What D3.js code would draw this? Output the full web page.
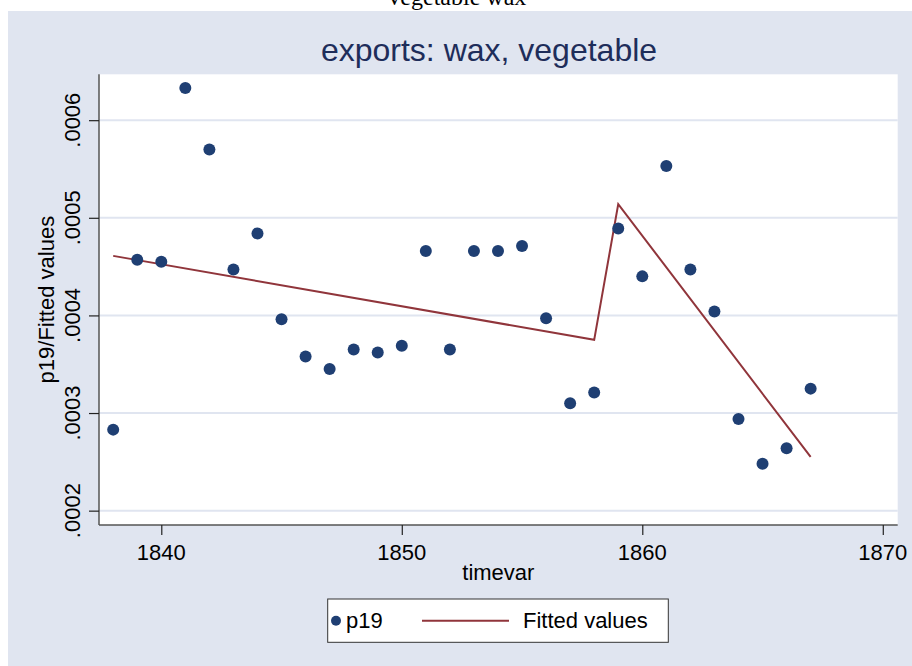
<!DOCTYPE html>
<html>
<head>
<meta charset="utf-8">
<script src="https://cdn.jsdelivr.net/npm/d3@7"></script>
<style>
  body { margin: 0; background: #fff; }
  text { font-family: "Liberation Sans", Arial, sans-serif; }
</style>
</head>
<body>
<script>
// observed values (p19)
var years = [1838, 1839, 1840, 1841, 1842, 1843, 1844, 1845, 1846, 1847,
             1848, 1849, 1850, 1851, 1852, 1853, 1854, 1855, 1856, 1857,
             1858, 1859, 1860, 1861, 1862, 1863, 1864, 1865, 1866, 1867];
var p19 = [0.000283, 0.000457, 0.000455, 0.000633, 0.000570, 0.000447, 0.000484, 0.000396, 0.000358, 0.000345,
           0.000365, 0.000362, 0.000369, 0.000466, 0.000365, 0.000466, 0.000466, 0.000471, 0.000397, 0.000310,
           0.000321, 0.000489, 0.000440, 0.000553, 0.000447, 0.000404, 0.000294, 0.000248, 0.000264, 0.000325];

// fitted line break points
var fitYears = [1838, 1858, 1859, 1867];
var fitValues = [0.000461, 0.000375, 0.000514, 0.000255];

var xTicks = [1840, 1850, 1860, 1870];
var yTicks = [0.0002, 0.0003, 0.0004, 0.0005, 0.0006];
var yTickLabels = [".0002", ".0003", ".0004", ".0005", ".0006"];

var w = 912, h = 666;
var pLeft = 99, pRight = 897.7, pTop = 74.3, pBottom = 525;

var svg = d3.select("body").append("svg")
            .attr("width", w)
            .attr("height", h);

// graph region
svg.append("rect")
   .attr("x", 8).attr("y", 11)
   .attr("width", w - 8).attr("height", h - 11)
   .attr("fill", "#e0e5f0");

svg.append("text")
   .text("Vegetable wax")
   .attr("x", 456).attr("y", 5)
   .attr("text-anchor", "middle")
   .style("font-family", "'Liberation Serif', 'Times New Roman', serif")
   .attr("font-size", "24px")
   .attr("fill", "#000");

var x = d3.scaleLinear().domain([1837.41, 1870.62]).range([pLeft, pRight]);
var y = d3.scaleLinear().domain([0.0001853, 0.000647]).range([pBottom, pTop]);

// plot region
svg.append("rect")
   .attr("x", pLeft).attr("y", pTop)
   .attr("width", pRight - pLeft).attr("height", pBottom - pTop)
   .attr("fill", "#fff");

// gridlines
svg.selectAll("line.grid").data(yTicks)
   .enter().append("line")
   .attr("class", "grid")
   .attr("x1", pLeft).attr("x2", pRight)
   .attr("y1", function(d) { return y(d); })
   .attr("y2", function(d) { return y(d); })
   .attr("stroke", "#e0e5f0")
   .attr("stroke-width", 2);

// axes
var yAxis = d3.axisLeft(y).tickValues(yTicks).tickSize(10).tickFormat("");
var xAxis = d3.axisBottom(x).tickValues(xTicks).tickSize(10).tickFormat("");

var gy = svg.append("g").attr("transform", "translate(" + pLeft + ",0)").call(yAxis);
var gx = svg.append("g").attr("transform", "translate(0," + pBottom + ")").call(xAxis);
[gy, gx].forEach(function(g) {
  g.select(".domain").attr("stroke", "#555").attr("stroke-width", 1.5);
  g.selectAll(".tick line").attr("stroke", "#222").attr("stroke-width", 1.2);
});
gx.select(".domain").attr("d", "M" + pLeft + ",0H" + pRight);
gy.select(".domain").attr("d", "M0," + pTop + "V" + pBottom);

// y tick labels (rotated)
svg.selectAll("text.ylab").data(yTicks)
   .enter().append("text")
   .attr("class", "ylab")
   .text(function(d, i) { return yTickLabels[i]; })
   .attr("text-anchor", "middle")
   .attr("transform", function(d) { return "translate(80," + y(d) + ") rotate(-90)"; })
   .attr("font-size", "22px")
   .attr("fill", "#000");

// x tick labels
svg.selectAll("text.xlab").data(xTicks)
   .enter().append("text")
   .attr("class", "xlab")
   .text(function(d) { return d; })
   .attr("x", function(d) { return x(d); })
   .attr("y", 560)
   .attr("text-anchor", "middle")
   .attr("font-size", "22px")
   .attr("fill", "#000");

svg.append("text")
   .text("timevar")
   .attr("x", (pLeft + pRight) / 2).attr("y", 580)
   .attr("text-anchor", "middle")
   .attr("font-size", "22px")
   .attr("fill", "#000");

svg.append("text")
   .text("p19/Fitted values")
   .attr("transform", "translate(54," + (pTop + pBottom) / 2 + ") rotate(-90)")
   .attr("text-anchor", "middle")
   .attr("font-size", "22px")
   .attr("fill", "#000");

svg.append("text")
   .text("exports: wax, vegetable")
   .attr("x", 489).attr("y", 61)
   .attr("text-anchor", "middle")
   .attr("font-size", "32px")
   .attr("fill", "#1e2d5a");

// fitted line
var line = d3.line()
  .x(function(d, i) { return x(fitYears[i]); })
  .y(function(d) { return y(d); });

svg.append("path")
   .datum(fitValues)
   .attr("d", line)
   .attr("fill", "none")
   .attr("stroke", "#90353b")
   .attr("stroke-width", 2);

// scatter
svg.selectAll("circle.pt").data(p19)
   .enter().append("circle")
   .attr("class", "pt")
   .attr("cx", function(d, i) { return x(years[i]); })
   .attr("cy", function(d) { return y(d); })
   .attr("r", 6)
   .attr("fill", "#1f3f73");

// legend
var lg = svg.append("g");
lg.append("rect")
  .attr("x", 327.7).attr("y", 599)
  .attr("width", 340.6).attr("height", 43.3)
  .attr("fill", "#fff")
  .attr("stroke", "#333")
  .attr("stroke-width", 1);
lg.append("circle")
  .attr("cx", 336).attr("cy", 620.7).attr("r", 5)
  .attr("fill", "#1f3f73");
lg.append("text")
  .text("p19")
  .attr("x", 346).attr("y", 628)
  .attr("font-size", "22px")
  .attr("fill", "#000");
lg.append("line")
  .attr("x1", 422).attr("x2", 509)
  .attr("y1", 620.7).attr("y2", 620.7)
  .attr("stroke", "#90353b")
  .attr("stroke-width", 2);
lg.append("text")
  .text("Fitted values")
  .attr("x", 523).attr("y", 628)
  .attr("font-size", "22px")
  .attr("fill", "#000");
</script>
</body>
</html>
